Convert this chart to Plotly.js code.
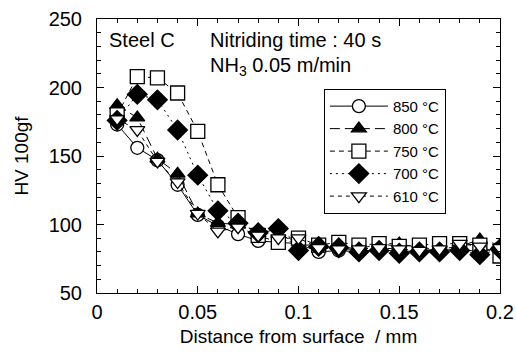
<!DOCTYPE html>
<html><head><meta charset="utf-8">
<script src="https://cdn.plot.ly/plotly-3.0.1.min.js"></script>
<style>html,body{margin:0;padding:0;background:#fff}</style>
</head><body><div id="chart" style="width:516px;height:353px"></div>
<script>
const distance = [0.01,0.02,0.03,0.04,0.05,0.06,0.07,0.08,0.09,0.10,0.11,0.12,0.13,0.14,0.15,0.16,0.17,0.18,0.19,0.20];
const hv850 = [173,156,147,129,107,99,93,88,87,86,80,81,80,82,80,81,81,82,80,83];
const hv800 = [187,178,148,137,108,101,100,92,98,85,85,84,82,86,86,83,82,84,89,85];
const hv750 = [180,208,207,196,168,129,105,92,87,90,85,87,85,86,84,85,86,86,85,77];
const hv700 = [176,195,191,169,136,110,101,94,97,81,84,83,80,81,79,80,80,81,78,82];
const hv610 = [177,169,146,131,108,95,98,92,90,90,83,82,82,83,82,81,82,86,84,83];
const seriesNames = ['850 °C','800 °C','750 °C','700 °C','610 °C'];

const FONT = 'Liberation Sans, Arial, sans-serif';
function tr(name, y, dash, symbol, fill, size){
  return {x: distance, y: y, name: name, type:'scatter', mode:'lines+markers',
    line:{color:'#000', width:1, dash: dash},
    marker:{symbol: symbol, size: size, color: fill, line:{color:'#000', width:1.3}}};
}
const data = [
  tr(seriesNames[0], hv850, 'solid', 'circle', '#fff', 13),
  tr(seriesNames[1], hv800, '10px,5px', 'triangle-up', '#000', 13),
  tr(seriesNames[2], hv750, '5px,4px', 'square', '#fff', 14),
  tr(seriesNames[3], hv700, '2px,4px', 'diamond', '#000', 15),
  tr(seriesNames[4], hv610, '4px,4px', 'triangle-down', '#fff', 13)
];
const axisCommon = {showgrid:false, zeroline:false, showline:true, linecolor:'#000', linewidth:1,
  mirror:'ticks', ticks:'inside', ticklen:7, tickcolor:'#000', tickwidth:1,
  tickfont:{family:FONT, size:20, color:'#000'}};
const layout = {
  width:516, height:353,
  margin:{l:97, r:16, t:19, b:60},
  paper_bgcolor:'#fff', plot_bgcolor:'#fff',
  font:{family:FONT, color:'#000'},
  xaxis: Object.assign({}, axisCommon, {range:[0,0.2], tickvals:[0,0.05,0.1,0.15,0.2], ticktext:['0','0.05','0.1','0.15','0.2'],
    minor:{dtick:0.01, tick0:0, ticks:'inside', ticklen:4, tickcolor:'#000'},
    ticklabelstandoff:1,
    title:{text:'Distance from surface  / mm', font:{family:FONT, size:19}, standoff:7}}),
  yaxis: Object.assign({}, axisCommon, {range:[50,250], dtick:50, tick0:50,
    minor:{dtick:10, tick0:50, ticks:'inside', ticklen:4, tickcolor:'#000'},
    ticklabelstandoff:10,
    title:{text:'HV 100gf', font:{family:FONT, size:19}, standoff:14}}),
  showlegend:true,
  legend:{x:0.563, y:0.745, xanchor:'left', yanchor:'top', bordercolor:'#000', borderwidth:1,
    bgcolor:'#fff', font:{family:FONT, size:15, color:'#000'}, tracegroupgap:0, itemwidth:58},
  annotations:[
    {xref:'paper', yref:'paper', x:0.025, y:0.925, xanchor:'left', yanchor:'middle', showarrow:false,
     text:'Steel C', font:{family:FONT, size:20}},
    {xref:'paper', yref:'paper', x:0.275, y:0.925, xanchor:'left', yanchor:'middle', showarrow:false,
     text:'Nitriding time : 40 s', font:{family:FONT, size:20}},
    {xref:'paper', yref:'paper', x:0.275, y:0.825, xanchor:'left', yanchor:'middle', showarrow:false,
     text:'NH<sub>3</sub> 0.05 m/min', font:{family:FONT, size:20}}
  ]
};
Plotly.newPlot('chart', data, layout, {displayModeBar:false, staticPlot:true});
</script></body></html>
